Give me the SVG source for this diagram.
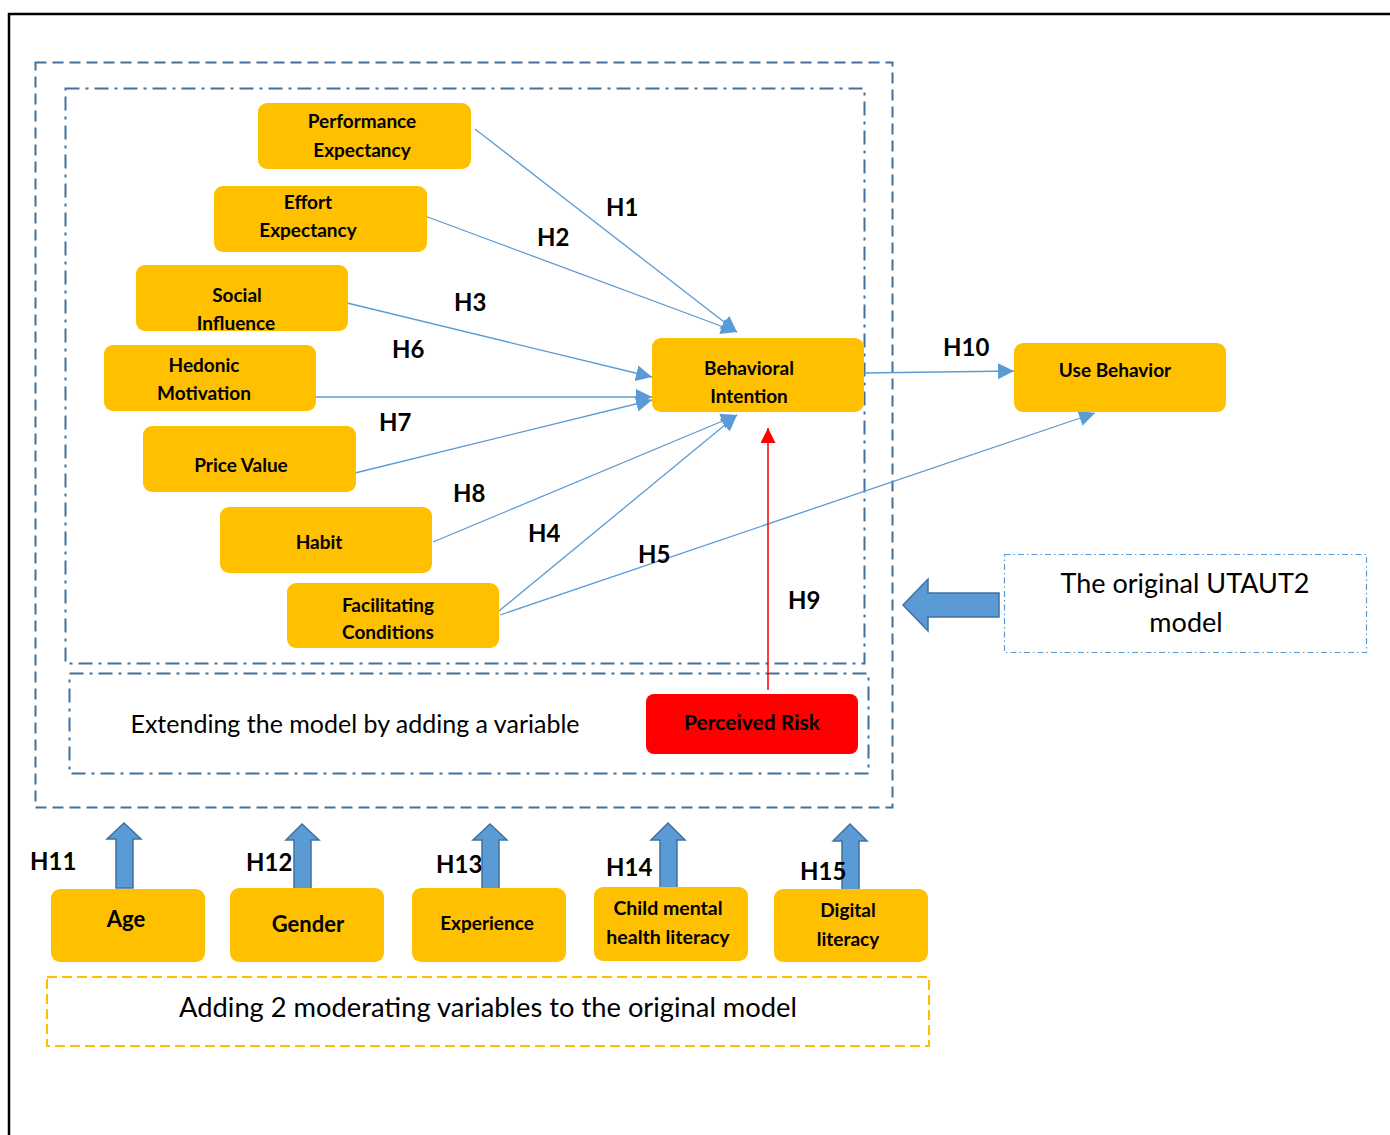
<svg xmlns="http://www.w3.org/2000/svg" width="1390" height="1135" viewBox="0 0 1390 1135">
<style>
.node{fill:#FFC000;}
.nt{font-family:Lato,"Liberation Sans",sans-serif;font-weight:bold;font-size:19px;fill:#000;text-anchor:middle;}
.hl{font-family:Lato,"Liberation Sans",sans-serif;font-weight:bold;font-size:24px;fill:#000;}
.pl{font-family:Lato,"Liberation Sans",sans-serif;font-size:24px;fill:#000;text-anchor:middle;}
.conn{stroke:#5B9BD5;stroke-width:1.3;fill:none;marker-end:url(#ah);}
.up{fill:#5B9BD5;stroke:#41719C;stroke-width:1.5;}
</style>
<defs>
<marker id="ah" markerUnits="userSpaceOnUse" markerWidth="18" markerHeight="16" refX="16" refY="8" orient="auto">
<path d="M0,0 L16,8 L0,16 z" fill="#5B9BD5"/>
</marker>
<marker id="ahr" markerUnits="userSpaceOnUse" markerWidth="16" markerHeight="16" refX="15" refY="7.5" orient="auto">
<path d="M0,0 L15,7.5 L0,15 z" fill="#FF0000"/>
</marker>
</defs>
<rect x="0" y="0" width="1390" height="1135" fill="#fff"/>
<rect x="9" y="14" width="1400" height="1200" fill="none" stroke="#000" stroke-width="2.5"/>

<g id="frames">
<rect x="35.5" y="62.5" width="857" height="745" fill="none" stroke="#41719C" stroke-width="2" stroke-dasharray="11 6"/>
<rect x="65.5" y="88.5" width="799" height="575" fill="none" stroke="#41719C" stroke-width="2" stroke-dasharray="14 6 3 6"/>
<rect x="69.5" y="673.5" width="799" height="100" fill="none" stroke="#41719C" stroke-width="2" stroke-dasharray="14 6 3 6"/>
<rect x="47" y="977" width="882" height="69" fill="none" stroke="#FFC000" stroke-width="2" stroke-dasharray="10 5"/>
<rect x="1004.5" y="554.5" width="362" height="98" fill="none" stroke="#5B9BD5" stroke-width="1.2" stroke-dasharray="6 3 1.5 3"/>
</g>

<g id="connectors">
<line class="conn" x1="475" y1="129" x2="737" y2="332"/>
<line class="conn" x1="425" y1="216" x2="737" y2="332"/>
<line class="conn" x1="343" y1="302" x2="652" y2="377"/>
<line class="conn" x1="316" y1="397" x2="652" y2="397"/>
<line class="conn" x1="355" y1="473" x2="652" y2="400"/>
<line class="conn" x1="433" y1="542" x2="737" y2="415"/>
<line class="conn" x1="499" y1="611" x2="737" y2="415"/>
<line class="conn" x1="500" y1="615" x2="1095" y2="413"/>
<line class="conn" x1="863" y1="373" x2="1014" y2="371"/>
<line x1="768" y1="690" x2="768" y2="428" stroke="#FF0000" stroke-width="1.5" marker-end="url(#ahr)"/>
<path class="up" d="M903,605 L928,579 L928,593 L999,593 L999,617 L928,617 L928,631 Z"/>
<path class="up" d="M124,823 L141,839 L133,839 L133,888 L116,888 L116,839 L107,839 Z"/>
<path class="up" d="M302,824 L319,840 L311,840 L311,890 L294,890 L294,840 L286,840 Z"/>
<path class="up" d="M490,824 L507,840 L499,840 L499,889 L482,889 L482,840 L473,840 Z"/>
<path class="up" d="M668,823 L685,840 L677,840 L677,888 L660,888 L660,840 L651,840 Z"/>
<path class="up" d="M850,824 L867,841 L859,841 L859,890 L842,890 L842,841 L833,841 Z"/>
</g>

<g id="labels">
<text class="hl" x="606" y="216">H1</text>
<text class="hl" x="537" y="246">H2</text>
<text class="hl" x="454" y="311">H3</text>
<text class="hl" x="392" y="358">H6</text>
<text class="hl" x="379" y="431">H7</text>
<text class="hl" x="453" y="502">H8</text>
<text class="hl" x="528" y="542">H4</text>
<text class="hl" x="638" y="563">H5</text>
<text class="hl" x="788" y="609">H9</text>
<text class="hl" x="943" y="356">H10</text>
<text class="hl" x="30" y="870">H11</text>
<text class="hl" x="246" y="871">H12</text>
<text class="hl" x="436" y="873">H13</text>
<text class="hl" x="606" y="876">H14</text>
<text class="hl" x="800" y="880">H15</text>
</g>

<g id="pe"><rect class="node" x="258" y="103" width="213" height="66" rx="9"/><text class="nt" x="362" y="128">Performance</text><text class="nt" x="362" y="157">Expectancy</text></g>
<g id="ee"><rect class="node" x="214" y="186" width="213" height="66" rx="9"/><text class="nt" x="308" y="209">Effort</text><text class="nt" x="308" y="237">Expectancy</text></g>
<g id="si"><rect class="node" x="136" y="265" width="212" height="66" rx="9"/><text class="nt" x="237" y="302">Social</text><text class="nt" x="236" y="330">Influence</text></g>
<g id="hm"><rect class="node" x="104" y="345" width="212" height="66" rx="9"/><text class="nt" x="204" y="372">Hedonic</text><text class="nt" x="204" y="400">Motivation</text></g>
<g id="pv"><rect class="node" x="143" y="426" width="213" height="66" rx="9"/><text class="nt" x="241" y="472">Price Value</text></g>
<g id="hb"><rect class="node" x="220" y="507" width="212" height="66" rx="9"/><text class="nt" x="319" y="549">Habit</text></g>
<g id="fc"><rect class="node" x="287" y="583" width="212" height="65" rx="9"/><text class="nt" x="388" y="612">Facilitating</text><text class="nt" x="388" y="639">Conditions</text></g>
<g id="bi"><rect class="node" x="652" y="338" width="212" height="74" rx="9"/><text class="nt" x="749" y="375">Behavioral</text><text class="nt" x="749" y="403">Intention</text></g>
<g id="ub"><rect class="node" x="1014" y="343" width="212" height="69" rx="9"/><text class="nt" x="1115" y="377">Use Behavior</text></g>
<g id="pr"><rect x="646" y="694" width="212" height="60" rx="8" fill="#FF0000"/><text class="nt" x="752" y="730" style="font-size:21px">Perceived Risk</text></g>
<g id="age"><rect class="node" x="51" y="889" width="154" height="73" rx="9"/><text class="nt" x="126" y="927" style="font-size:22px">Age</text></g>
<g id="gender"><rect class="node" x="230" y="888" width="154" height="74" rx="9"/><text class="nt" x="308" y="932" style="font-size:22px">Gender</text></g>
<g id="exp"><rect class="node" x="412" y="888" width="154" height="74" rx="9"/><text class="nt" x="487" y="930">Experience</text></g>
<g id="cmhl"><rect class="node" x="594" y="887" width="154" height="74" rx="9"/><text class="nt" x="668" y="915" style="font-size:19.5px">Child mental</text><text class="nt" x="668" y="944" style="font-size:19.5px">health literacy</text></g>
<g id="dl"><rect class="node" x="774" y="889" width="154" height="73" rx="9"/><text class="nt" x="848" y="917">Digital</text><text class="nt" x="848" y="946">literacy</text></g>

<g id="texts">
<text class="pl" x="355" y="733" style="font-size:25px">Extending the model by adding a variable</text>
<text class="pl" x="1185" y="593" style="font-size:27px">The original UTAUT2</text>
<text class="pl" x="1186" y="632" style="font-size:27px">model</text>
<text class="pl" x="488" y="1017" style="font-size:27.3px">Adding 2 moderating variables to the original model</text>
</g>
</svg>
